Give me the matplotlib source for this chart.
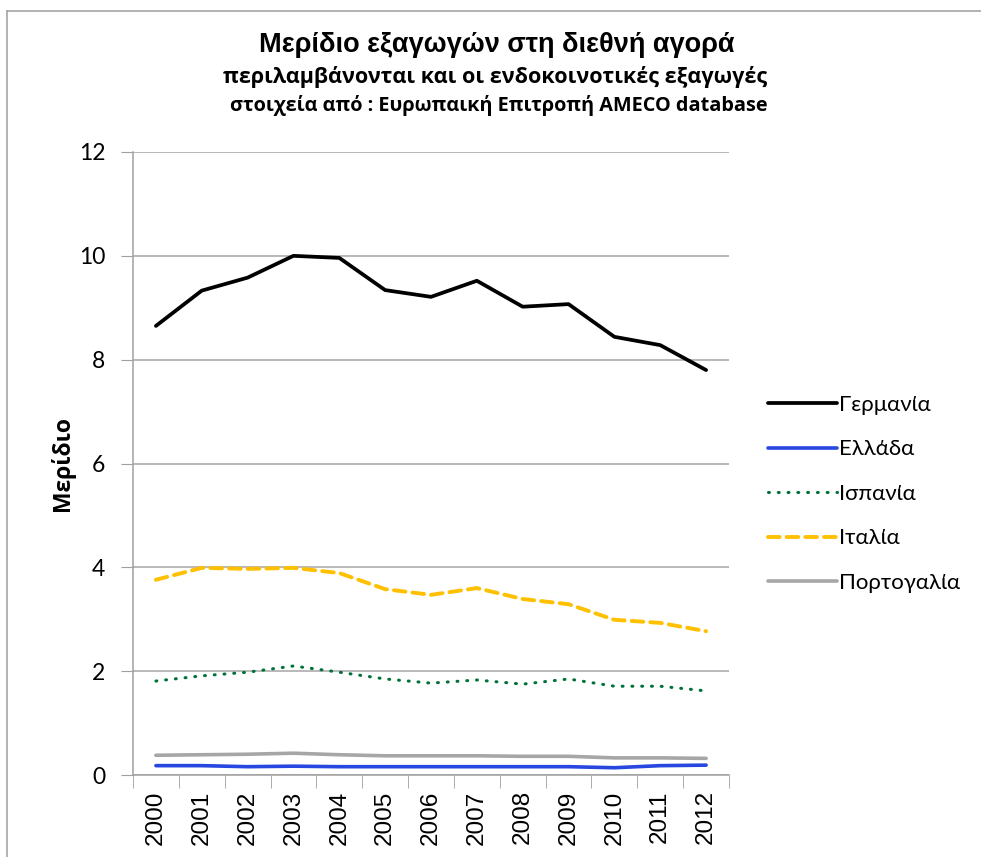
import matplotlib
matplotlib.use("Agg")
import matplotlib.pyplot as plt
from matplotlib.lines import Line2D
import numpy as np

years = ["2000", "2001", "2002", "2003", "2004", "2005", "2006",
         "2007", "2008", "2009", "2010", "2011", "2012"]
germany = [8.65, 9.33, 9.58, 10.00, 9.96, 9.34, 9.21, 9.52, 9.02, 9.07, 8.44, 8.28, 7.80]
greece = [0.18, 0.18, 0.16, 0.17, 0.16, 0.16, 0.16, 0.16, 0.16, 0.16, 0.14, 0.18, 0.19]
spain = [1.81, 1.91, 1.98, 2.10, 1.98, 1.85, 1.77, 1.83, 1.75, 1.85, 1.71, 1.71, 1.62]
italy = [3.76, 3.99, 3.97, 3.99, 3.89, 3.58, 3.47, 3.60, 3.39, 3.29, 2.99, 2.93, 2.77]
portugal = [0.38, 0.39, 0.40, 0.42, 0.39, 0.37, 0.37, 0.37, 0.36, 0.36, 0.33, 0.33, 0.32]
series_names = ["Γερμανία", "Ελλάδα", "Ισπανία", "Ιταλία", "Πορτογαλία"]
y_ticks = [0, 2, 4, 6, 8, 10, 12]

W, H = 981, 857
fig = plt.figure(figsize=(W / 100, H / 100), dpi=100)
ax = fig.add_axes([133 / W, 1 - 775 / H, (729 - 133) / W, (775 - 152) / H])

x = np.arange(len(years))
lines = []
lines += ax.plot(x, germany, color="black", lw=2.7, solid_capstyle="round", solid_joinstyle="round")
lines += ax.plot(x, greece, color="#2747e0", lw=2.6, solid_capstyle="round")
lines += ax.plot(x, spain, color="#007238", lw=2.2, linestyle=(0, (0.3, 2.9)), dash_capstyle="round")
lines += ax.plot(x, italy, color="#ffc000", lw=2.8, linestyle=(0, (3.0, 1.8)), dash_capstyle="round")
lines += ax.plot(x, portugal, color="#a6a6a6", lw=2.6, solid_capstyle="round")
for l in lines:
    l.set_zorder(3)

ax.set_xlim(-0.5, len(years) - 0.5)
ax.set_ylim(0, 12)
ax.set_yticks(y_ticks)
ax.set_yticklabels([str(v) for v in y_ticks], fontfamily="Lato", fontsize=16.5)
ax.set_xticks(x)
ax.set_xticklabels(years, rotation=90, fontfamily="Liberation Sans", fontsize=17.5)
ax.set_xticks(np.arange(-0.5, len(years)), minor=True)
ax.tick_params(axis="x", which="major", length=0, pad=11)
ax.tick_params(axis="x", which="minor", length=9, color="#a0a0a0", direction="out")
ax.tick_params(axis="y", length=9, color="#a0a0a0", direction="out", pad=11)
ax.grid(axis="y", color="#a6a6a6", lw=1.1, zorder=1)
ax.set_axisbelow(True)
for s in ["top", "right"]:
    ax.spines[s].set_visible(False)
for s in ["left", "bottom"]:
    ax.spines[s].set_color("#a0a0a0")
    ax.spines[s].set_linewidth(1.1)

ax.set_ylabel("Μερίδιο", fontfamily="Open Sans", fontweight="bold", fontsize=16.5, labelpad=3)

leg = fig.legend(lines, series_names, loc="upper left", bbox_to_anchor=(748 / W, 1 - 375 / H),
                 frameon=False, prop={"family": "Lato", "size": 16}, handlelength=3.1,
                 handletextpad=0.1, labelspacing=1.1)

fig.text(497 / W, 1 - 45 / H, "Μερίδιο εξαγωγών στη διεθνή αγορά", ha="center", va="center",
         fontfamily="Liberation Sans", fontweight="bold", fontsize=19.5)
fig.text(495 / W, 1 - 77 / H, "περιλαμβάνονται και οι ενδοκοινοτικές εξαγωγές", ha="center", va="center",
         fontfamily="Open Sans", fontweight="bold", fontsize=15.5)
fig.text(499 / W, 1 - 106 / H, "στοιχεία από : Ευρωπαική Επιτροπή AMECO database", ha="center", va="center",
         fontfamily="Open Sans", fontweight="bold", fontsize=14.3)

fig.add_artist(Line2D([7 / W, 7 / W], [0, 1 - 11 / H], transform=fig.transFigure, color="#a6a6a6", lw=1.2))
fig.add_artist(Line2D([7 / W, 1], [1 - 11 / H, 1 - 11 / H], transform=fig.transFigure, color="#a6a6a6", lw=1.2))

fig.savefig("out.png", dpi=100)
